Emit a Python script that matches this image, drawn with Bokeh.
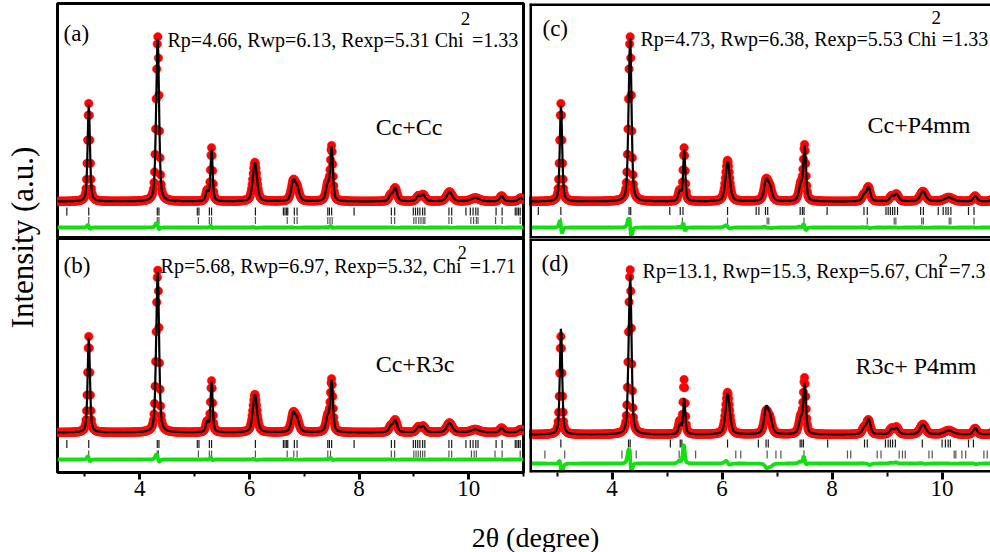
import numpy as np
from bokeh.plotting import figure
from bokeh.layouts import row, column
from bokeh.models import Range1d, LinearAxis, FixedTicker, Label, ColumnDataSource, Span
from bokeh.embed import file_html
from bokeh.resources import INLINE

FONT = "Liberation Serif"

# ---------------- data ----------------
two_theta = np.round(np.arange(2.50, 11.0001, 0.01), 3)

peak_pos = [3.07, 4.30, 4.33, 5.23, 5.31, 6.10, 6.80, 6.87, 7.43, 7.50,
            8.58, 8.66, 9.08, 9.17, 9.65, 10.12, 10.60, 10.95]
peak_fwhm = [0.05, 0.05, 0.055, 0.06, 0.045, 0.09, 0.09, 0.09, 0.08, 0.055,
             0.08, 0.08, 0.08, 0.09, 0.12, 0.18, 0.08, 0.10]
ETA = 0.5

# peak heights (obs / calc) and background for each panel
obs_a = [98, 35, 151, 10, 53, 39, 19, 12, 16, 53, 6, 13, 5, 6.5, 9.5, 3.5, 5.5, 3.5]
calc_a = [97, 34, 149, 10, 52, 39, 19, 12, 16, 52, 6, 13, 5, 6.5, 9.5, 3.5, 5.5, 3.5]
obs_b = [96, 34, 149, 10, 51, 38, 18, 11, 15, 51, 6, 12, 5, 6, 9.5, 3, 4.5, 3]
calc_b = [95, 33, 147, 10, 50, 38, 18, 11, 15, 50, 6, 12, 5, 6, 9.5, 3, 4.5, 3]
obs_c = [98, 35, 151, 10, 53, 41, 20, 12, 16, 54, 6, 14, 5, 7, 10, 4, 5.5, 3.5]
calc_c = [97, 34, 150, 10, 52, 40, 20, 12, 16, 53, 6, 14, 5, 7, 10, 4, 5.5, 3.5]
obs_d = [98, 35, 151, 12, 54, 42, 21, 13, 16, 54, 6, 14, 5.5, 7, 10, 4, 6, 3.5]
calc_d = [107, 32, 146, 10, 36, 41, 25, 15, 15, 49, 6, 15, 5, 6, 10, 4, 6.5, 3.5]
background = {"a": 37, "b": 40, "c": 37, "d": 38}
calc_shift = {"a": 0.0008, "b": 0.001, "c": 0.0025, "d": 0.003}

# Bragg reflection positions (two phases per panel)
bragg_a1 = [2.67, 3.07, 4.32, 4.35, 5.05, 5.08, 5.27, 5.31, 6.11, 6.62, 6.65, 6.68, 6.70,
            6.82, 6.87, 7.43, 7.46, 7.50, 7.91, 8.59, 8.65, 8.99, 9.03, 9.07, 9.11, 9.16,
            9.20, 9.64, 9.69, 9.95, 10.03, 10.08, 10.13, 10.17, 10.50, 10.61, 10.85, 10.88,
            10.91, 10.94]
bragg_a2 = [3.07, 4.32, 4.35, 5.07, 5.27, 5.31, 6.11, 6.69, 6.82, 6.87, 7.43, 7.47, 7.51,
            8.59, 8.65, 9.00, 9.04, 9.09, 9.13, 9.17, 9.20, 9.64, 9.69, 10.04, 10.09, 10.14,
            10.17, 10.49, 10.61, 10.94]
bragg_b1 = list(bragg_a1)
bragg_b2 = [3.07, 4.32, 4.34, 5.07, 5.27, 5.31, 6.11, 6.69, 6.81, 6.87, 7.43, 7.48, 8.59,
            8.65, 9.00, 9.04, 9.08, 9.12, 9.16, 9.20, 9.64, 9.69, 10.05, 10.10, 10.14,
            10.48, 10.61, 10.94]
bragg_c1 = [2.66, 3.07, 4.31, 4.34, 5.05, 5.24, 5.29, 6.10, 6.62, 6.67, 6.79, 6.83, 7.42,
            7.46, 7.49, 7.91, 8.58, 8.64, 8.98, 9.02, 9.06, 9.10, 9.14, 9.19, 9.61, 9.66,
            9.93, 10.02, 10.07, 10.11, 10.16, 10.48, 10.58]
bragg_c2 = [3.07, 4.31, 4.34, 5.28, 6.10, 6.82, 6.85, 7.49, 8.64, 9.13, 9.16, 9.63, 9.66,
            10.13, 10.16, 10.58]
bragg_d1 = [3.07, 4.30, 4.33, 5.06, 5.24, 5.27, 6.10, 6.66, 6.80, 6.84, 7.42, 7.45, 7.48,
            7.92, 8.59, 8.64, 8.97, 9.02, 9.06, 9.10, 9.15, 9.64, 10.00, 10.06, 10.11,
            10.15, 10.48, 10.57]
bragg_d2 = [2.78, 3.14, 4.18, 4.34, 4.44, 5.22, 5.52, 6.25, 6.34, 6.82, 6.98, 7.07, 7.49,
            8.28, 8.34, 8.82, 8.89, 9.22, 9.28, 9.33, 9.76, 9.82, 10.22, 10.25, 10.36,
            10.43, 10.76, 10.82]

x_ticks = [4, 6, 8, 10]
x_minor = [3, 5, 7, 9, 11]

phase_labels = {"a": "Cc+Cc", "b": "Cc+R3c", "c": "Cc+P4mm", "d": "R3c+ P4mm"}
stats_main = {"a": "Rp=4.66, Rwp=6.13, Rexp=5.31 Chi",
              "b": "Rp=5.68, Rwp=6.97, Rexp=5.32, Chi",
              "c": "Rp=4.73, Rwp=6.38, Rexp=5.53 Chi",
              "d": "Rp=13.1, Rwp=15.3, Rexp=5.67, Chi"}
stats_chi = {"a": "=1.33", "b": "=1.71", "c": "=1.33", "d": "=7.3"}


def profile(heights, bg, shift=0.0):
    y = np.full(two_theta.shape, float(bg))
    for x0, w, h in zip(peak_pos, peak_fwhm, heights):
        d = (two_theta - x0 - shift) / w
        g = np.exp(-4 * np.log(2) * d * d)
        lo = 1.0 / (1 + 4 * d * d)
        y += h * (ETA * lo + (1 - ETA) * g)
    return y


def make_panel(key, obs_h, calc_h, br1, br2, width, height, x_end, y_end,
               borders, rows_y, diff_base, texts, with_axis, outline=True):
    p = figure(width=width, height=height, x_range=Range1d(2.5, x_end),
               y_range=Range1d(0, y_end), x_axis_type=None, y_axis_type=None,
               toolbar_location=None, output_backend="svg",
               min_border_left=borders[0], min_border_right=borders[1],
               min_border_top=borders[2], min_border_bottom=borders[3])
    p.background_fill_color = "white"
    p.border_fill_color = "white"
    if outline:
        p.outline_line_color = "black"
        p.outline_line_width = 3
    else:
        p.outline_line_color = None
        for loc, dim in ((2.5, "height"), (0, "width"), (y_end, "width")):
            p.add_layout(Span(location=loc, dimension=dim, line_color="black",
                              line_width=5))

    obs = profile(obs_h, background[key])
    calc = profile(calc_h, background[key], calc_shift[key])
    diff = obs - calc + diff_base

    r1y, r1h, r2y, r2h = rows_y
    s1 = ColumnDataSource(dict(x=br1, y0=[r1y - r1h] * len(br1), y1=[r1y + r1h] * len(br1)))
    s2 = ColumnDataSource(dict(x=br2, y0=[r2y - r2h] * len(br2), y1=[r2y + r2h] * len(br2)))
    p.segment(x0="x", x1="x", y0="y0", y1="y1", source=s1, line_color="#1a1a1a", line_width=1.2)
    p.segment(x0="x", x1="x", y0="y0", y1="y1", source=s2, line_color="#555555", line_width=1.2)

    p.line(two_theta, diff, line_color="#10E010", line_width=3.8)
    p.scatter(two_theta, obs, size=8.5, fill_color="#FF0000", line_color="#FF1010",
              line_width=0.5)
    p.line(two_theta, calc, line_color="black", line_width=2.2)

    for (tx, ty, txt, size) in texts:
        p.add_layout(Label(x=tx, y=ty, text=txt, text_font=FONT, text_font_size=size,
                           text_align="left", text_baseline="alphabetic",
                           text_color="black"))

    if with_axis:
        ax = LinearAxis(ticker=FixedTicker(ticks=x_ticks, minor_ticks=x_minor))
        ax.axis_line_color = None
        ax.major_tick_in = 0
        ax.major_tick_out = 7
        ax.major_tick_line_width = 3
        ax.minor_tick_in = 0
        ax.minor_tick_out = 4
        ax.minor_tick_line_width = 2
        ax.major_label_text_font = FONT
        ax.major_label_text_font_size = "23px"
        ax.major_label_standoff = 1
        ax.major_label_text_color = "black"
        p.add_layout(ax, "below")
    return p


L_END = 11.0
R_END = 10.88
ST = "20px"

pa = make_panel("a", obs_a, calc_a, bragg_a1, bragg_a2, 470, 238, L_END, 235,
                (2, 2, 3, 0), (27, 4, 18, 3.5), 11,
                [(2.61, 205, "(a)", "23px"),
                 (4.507, 199, stats_main["a"], ST),
                 (9.854, 220, "2", "19px"),
                 (10.06, 199, stats_chi["a"], ST),
                 (8.303, 112, phase_labels["a"], "24px")], False)
pb = make_panel("b", obs_b, calc_b, bragg_b1, bragg_b2, 470, 272, L_END, 234,
                (2, 2, 0, 38), (28.5, 4, 18.5, 3.5), 13,
                [(2.61, 207, "(b)", "23px"),
                 (4.38, 207, stats_main["b"], ST),
                 (9.80, 220, "2", "18px"),
                 (10.02, 207, stats_chi["b"], ST),
                 (8.303, 109, phase_labels["b"], "24px")], True)
pc = make_panel("c", obs_c, calc_c, bragg_c1, bragg_c2, 465, 238, R_END, 235,
                (4, 0, 3, 0), (27.5, 4, 17.5, 3.5), 11,
                [(2.736, 210, "(c)", "23px"),
                 (4.518, 200, stats_main["c"], ST),
                 (9.809, 221, "2", "19px"),
                 (10.0, 200, stats_chi["c"], ST),
                 (8.645, 114, phase_labels["c"], "24px")], False, outline=False)
pd_ = make_panel("d", obs_d, calc_d, bragg_d1, bragg_d2, 465, 272, R_END, 234,
                 (4, 0, 0, 38), (29, 4, 18, 4), 9,
                 [(2.718, 209, "(d)", "23px"),
                  (4.555, 202, stats_main["d"], ST),
                  (9.936, 212, "2", "19px"),
                  (10.13, 202, stats_chi["d"], ST),
                  (8.427, 107, phase_labels["d"], "24px")], True, outline=False)


def blank(width, height):
    f = figure(width=width, height=height, x_range=Range1d(0, width),
               y_range=Range1d(0, height), x_axis_type=None, y_axis_type=None,
               toolbar_location=None, output_backend="svg", min_border=0)
    f.outline_line_color = None
    f.background_fill_color = "white"
    f.border_fill_color = "white"
    return f


ylab = blank(55, 552)
ylab.add_layout(Label(x=22, y=315, text="Intensity (a.u.)", angle=np.pi / 2,
                      text_font=FONT, text_font_size="31px", text_align="center",
                      text_baseline="middle", text_color="black"))
xlab = blank(935, 42)
xlab.add_layout(Label(x=480, y=15, text="2θ (degree)", text_font=FONT,
                      text_font_size="28px", text_align="center",
                      text_baseline="middle", text_color="black"))

layout = row(ylab, column(row(pa, pc), row(pb, pd_), xlab))

open("out.html", "w").write(file_html(layout, INLINE))
